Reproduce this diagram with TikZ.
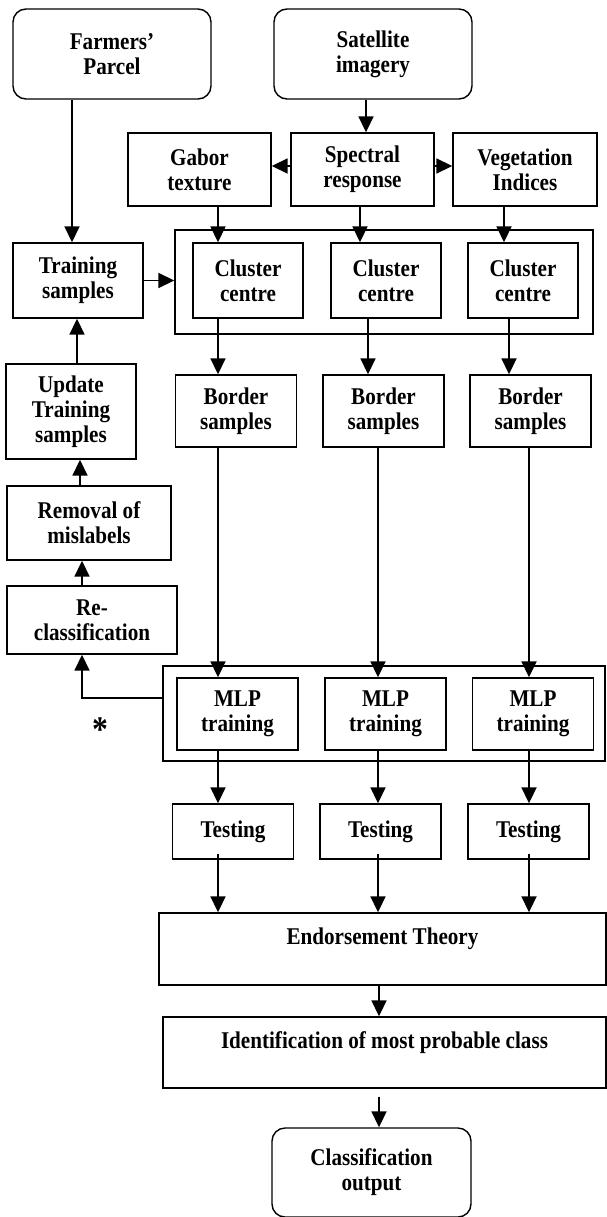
\documentclass[tikz,border=0pt]{standalone}
\usepackage{fontspec}
\setmainfont[FakeStretch=0.88]{Liberation Serif}
\usetikzlibrary{positioning, arrows.meta}

\tikzset{
  box/.style={draw, line width=1.4pt, align=center, inner sep=0pt,
    font=\fontsize{24}{25}\selectfont\bfseries},
  term/.style={box, rounded corners=13pt},
  arr/.style={-{Triangle[width=15pt,length=16pt]}, line width=1.8pt},
}

\begin{document}
\begin{tikzpicture}[x=1pt, y=-1pt]
    \useasboundingbox (0,0) rectangle (606,1217);

    % Inputs
    \node[term, minimum width=198, minimum height=90] (parcel) at (112,54) {Farmers'\\Parcel};
    \node[term, minimum width=198, minimum height=90] (sat) at (373,54) {Satellite\\imagery};

    % Features
    \node[box, minimum width=143, minimum height=73] (gabor) at (199.5,169.5) {Gabor\\texture};
    \node[box, minimum width=143, minimum height=73] (spectral) at (362.5,169.5) {Spectral\\response};
    \node[box, minimum width=144, minimum height=73] (veg) at (525,169.5) {Vegetation\\Indices};

    % Groups
    \node[box, minimum width=418, minimum height=104] (clusgrp) at (384,282) {};
    \node[box, minimum width=442, minimum height=95] (mlpgrp) at (384,713.5) {};

    % Three columns
    \foreach \i/\cx/\bx/\mx/\tx in {1/248/236/237.5/233, 2/386/383.5/385.5/380.5, 3/523/530.5/533/528.5} {
      \node[box, minimum width=110, minimum height=75] (cc\i) at (\cx,280.5) {Cluster\\centre};
      \node[box, minimum width=121, minimum height=72] (bs\i) at (\bx,411) {Border\\samples};
      \node[box, minimum width=121, minimum height=72] (mlp\i) at (\mx,714) {MLP\\training};
      \node[box, minimum width=121, minimum height=55] (test\i) at (\tx,831.5) {Testing};
    }

    % Left column
    \node[box, minimum width=130, minimum height=75] (train) at (78,280.5) {Training\\samples};
    \node[box, minimum width=130, minimum height=95] (update) at (71,411.5) {Update\\Training\\samples};
    \node[box, minimum width=164, minimum height=74] (removal) at (89,523) {Removal of\\mislabels};
    \node[box, minimum width=170, minimum height=68] (reclass) at (92,620) {Re-\\classification};
    \node[font=\fontsize{36}{36}\selectfont\bfseries] (star) at (100,730) {*};

    % Fusion
    \node[box, minimum width=447, minimum height=72] (endorse) at (382.5,949) {Endorsement Theory\\~};
    \node[box, minimum width=443, minimum height=71] (ident) at (384.5,1052.5) {Identification of most probable class\\~};
    \node[term, minimum width=199, minimum height=89] (output) at (371.5,1172.5) {Classification\\output};

    % Connectors
    \draw[arr] ([xshift=-7]sat.south) -- ([xshift=-7]sat.south |- spectral.north);
    \draw[arr] ([yshift=3.5]spectral.west) -- ([yshift=3.5]spectral.west -| gabor.east);
    \draw[arr] ([yshift=3.5]spectral.east) -- ([yshift=3.5]spectral.east -| veg.west);
    \foreach \f/\i/\d in {gabor/1/18.5, spectral/2/-2.5, veg/3/-21} {
      \draw[arr] ([xshift=\d]\f.south) -- ([xshift=\d]\f.south |- cc\i.north);
    }
    \foreach \i/\c/\b/\m/\t in {1/-30/-18/-19.5/-15, 2/-18/-5.5/-7.5/-2.5, 3/-14/-1.5/-4/0.5} {
      \draw[arr] ([xshift=\c]cc\i.south) -- ([xshift=\c]cc\i.south |- bs\i.north);
      \draw[arr] ([xshift=\b]bs\i.south) -- ([xshift=\b]bs\i.south |- mlp\i.north);
      \draw[arr] ([xshift=\m]mlp\i.south) -- ([xshift=\m]mlp\i.south |- test\i.north);
      \draw[arr] ([xshift=\t,yshift=6]test\i.south) -- ([xshift=\t]test\i.south |- endorse.north);
    }
    \draw[arr] ([xshift=-40]parcel.south) -- ([xshift=-40]parcel.south |- train.north);
    \draw[arr] (train.east) -- (train.east -| clusgrp.west);
    \draw[arr] ([xshift=6]update.north) -- ([xshift=6]update.north |- train.south);
    \draw[arr] ([xshift=-9]removal.north) -- ([xshift=-9]removal.north |- update.south);
    \draw[arr] ([xshift=-10]reclass.north) -- ([xshift=-10]reclass.north |- removal.south);
    \draw[arr] ([yshift=15.5]mlpgrp.west) -| ([xshift=-10]reclass.south);
    \draw[arr] ([xshift=-3.5]endorse.south) -- ([xshift=-3.5]endorse.south |- ident.north);
    \draw[arr] ([xshift=-5.5,yshift=-8]ident.south) -- ([xshift=-5.5]ident.south |- output.north);
\end{tikzpicture}
\end{document}
